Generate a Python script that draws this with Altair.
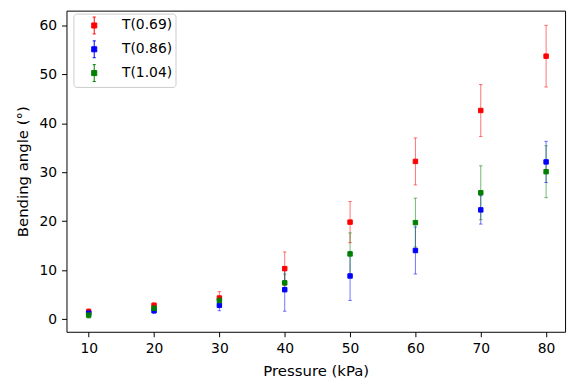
import altair as alt
import pandas as pd

pressure = [10, 20, 30, 40, 50, 60, 70, 80]
series_names = ["T(0.69)", "T(0.86)", "T(1.04)"]
series_colors = ["#ff0000", "#0000ff", "#008000"]

angle_069 = [1.5, 2.8, 4.3, 10.3, 19.8, 32.2, 42.6, 53.7]
err_069 = [0.6, 0.5, 1.3, 3.4, 4.2, 4.8, 5.3, 6.3]
angle_086 = [1.2, 1.7, 2.8, 6.0, 8.8, 14.0, 22.3, 32.1]
err_086 = [0.5, 0.5, 1.1, 4.4, 5.0, 4.8, 2.9, 4.2]
angle_104 = [0.8, 2.2, 3.8, 7.4, 13.3, 19.7, 25.8, 30.1]
err_104 = [0.6, 0.4, 0.8, 1.8, 4.3, 5.0, 5.5, 5.3]

x_ticks = [10, 20, 30, 40, 50, 60, 70, 80]
y_ticks = [0, 10, 20, 30, 40, 50, 60]

rows = []
for name, vals, errs in zip(series_names, [angle_069, angle_086, angle_104], [err_069, err_086, err_104]):
    for p, v, e in zip(pressure, vals, errs):
        rows.append({"series": name, "pressure": p, "angle": v, "lo": v - e, "hi": v + e})
df = pd.DataFrame(rows)

FONT = "DejaVu Sans"
cscale = alt.Scale(domain=series_names, range=series_colors)

x_enc = alt.X("pressure:Q",
              scale=alt.Scale(domain=[6.6, 82.9], nice=False, zero=False),
              axis=alt.Axis(values=x_ticks, title="Pressure (kPa)", format="d"))
y_axis = alt.Axis(values=y_ticks, title="Bending angle (°)", format="d")
y_scale = alt.Scale(domain=[-2.6, 63], nice=False, zero=False)

legend_path = ("M-0.3,-0.3H0.3V0.3H-0.3Z "
               "M0,-1V1 M-0.18,-1H0.18 M-0.18,1H0.18")

legend = alt.Legend(title=None, orient="none", legendX=7, legendY=3,
                    symbolType=legend_path, symbolSize=289, symbolOpacity=1,
                    symbolStrokeWidth=1, labelOffset=19, symbolOffset=9,
                    rowPadding=2, padding=3, fillColor="white",
                    strokeColor="#cccccc", cornerRadius=3,
                    labelFontSize=14, labelFont=FONT, labelColor="black")

base = alt.Chart(df)

bars = base.mark_rule(strokeWidth=1, opacity=0.55).encode(
    x=x_enc,
    y=alt.Y("lo:Q", scale=y_scale, axis=y_axis),
    y2="hi:Q",
    stroke=alt.Stroke("series:N", scale=cscale, legend=legend, sort=series_names),
)
caps_lo = base.mark_point(shape="M-1,0L1,0", size=12, strokeWidth=1, opacity=0.55, filled=False).encode(
    x=x_enc,
    y=alt.Y("lo:Q", scale=y_scale, axis=y_axis),
    stroke=alt.Stroke("series:N", scale=cscale, legend=legend, sort=series_names),
)
caps_hi = base.mark_point(shape="M-1,0L1,0", size=12, strokeWidth=1, opacity=0.55, filled=False).encode(
    x=x_enc,
    y=alt.Y("hi:Q", scale=y_scale, axis=y_axis),
    stroke=alt.Stroke("series:N", scale=cscale, legend=legend, sort=series_names),
)
points = base.mark_point(shape="square", filled=True, size=20, strokeWidth=1, opacity=1).encode(
    x=x_enc,
    y=alt.Y("angle:Q", scale=y_scale, axis=y_axis),
    fill=alt.Fill("series:N", scale=cscale, legend=legend, sort=series_names),
    stroke=alt.Stroke("series:N", scale=cscale, legend=legend, sort=series_names),
)

chart = alt.layer(bars, caps_lo, caps_hi, points).properties(
    width=503, height=324,
    autosize=alt.AutoSizeParams(type="none"),
    padding={"left": 59, "top": 1, "right": 6, "bottom": 48},
).configure_view(
    stroke="black", strokeWidth=1
).configure_axis(
    grid=False, domain=False, tickColor="black", tickSize=5, tickWidth=1,
    labelFont=FONT, labelFontSize=14, labelColor="black", labelPadding=5,
    titleFont=FONT, titleFontSize=15, titleFontWeight="normal", titleColor="black",
).configure_axisX(titlePadding=8).configure_axisY(titlePadding=9)

chart.save("out.html", embed_options={"renderer": "svg", "actions": False})
